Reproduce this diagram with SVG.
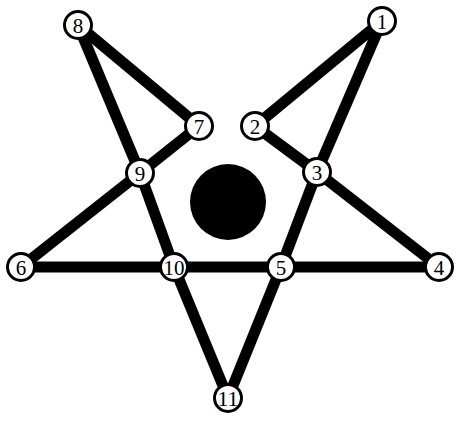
<svg xmlns="http://www.w3.org/2000/svg" width="466" height="424" viewBox="0 0 466 424">
<style>
.e{stroke:#000;stroke-width:11;stroke-linecap:butt;fill:none}
.n circle{fill:#fff;stroke:#000;stroke-width:3}
.n text{font-family:"Liberation Serif","Times New Roman",serif;font-size:21px;text-anchor:middle;fill:#000}
</style>
<rect width="466" height="424" fill="#fff"/>
<circle id="center" cx="228" cy="202" r="38" fill="#000"/>
<g id="connectors">
<line class="e" x1="78" y1="25" x2="199" y2="126"/>
<line class="e" x1="78" y1="25" x2="140" y2="173"/>
<line class="e" x1="199" y1="126" x2="140" y2="173"/>
<line class="e" x1="140" y1="173" x2="21" y2="267"/>
<line class="e" x1="140" y1="173" x2="174" y2="267"/>
<line class="e" x1="21" y1="267" x2="439" y2="267"/>
<line class="e" x1="174" y1="267" x2="228" y2="398"/>
<line class="e" x1="228" y1="398" x2="281" y2="267"/>
<line class="e" x1="281" y1="267" x2="317" y2="172"/>
<line class="e" x1="317" y1="172" x2="382" y2="21"/>
<line class="e" x1="382" y1="21" x2="255" y2="126"/>
<line class="e" x1="255" y1="126" x2="317" y2="172"/>
<line class="e" x1="317" y1="172" x2="439" y2="267"/>
</g>
<g id="n1" class="n"><circle cx="382" cy="21" r="13.5"/><text x="382" y="28.5">1</text></g>
<g id="n2" class="n"><circle cx="255" cy="126" r="13.5"/><text x="255" y="133.5">2</text></g>
<g id="n3" class="n"><circle cx="317" cy="172" r="13.5"/><text x="317" y="179.5">3</text></g>
<g id="n4" class="n"><circle cx="439" cy="267" r="13.5"/><text x="439" y="274.5">4</text></g>
<g id="n5" class="n"><circle cx="281" cy="267" r="13.5"/><text x="281" y="274.5">5</text></g>
<g id="n6" class="n"><circle cx="21" cy="267" r="13.5"/><text x="21" y="274.5">6</text></g>
<g id="n7" class="n"><circle cx="199" cy="126" r="13.5"/><text x="199" y="133.5">7</text></g>
<g id="n8" class="n"><circle cx="78" cy="25" r="13.5"/><text x="78" y="32.5">8</text></g>
<g id="n9" class="n"><circle cx="140" cy="173" r="13.5"/><text x="140" y="180.5">9</text></g>
<g id="n10" class="n"><circle cx="174" cy="267" r="13.5"/><text x="174" y="274.5" textLength="21" lengthAdjust="spacingAndGlyphs">10</text></g>
<g id="n11" class="n"><circle cx="228" cy="398" r="13.5"/><text x="228" y="405.5" textLength="21" lengthAdjust="spacingAndGlyphs">11</text></g>
</svg>
